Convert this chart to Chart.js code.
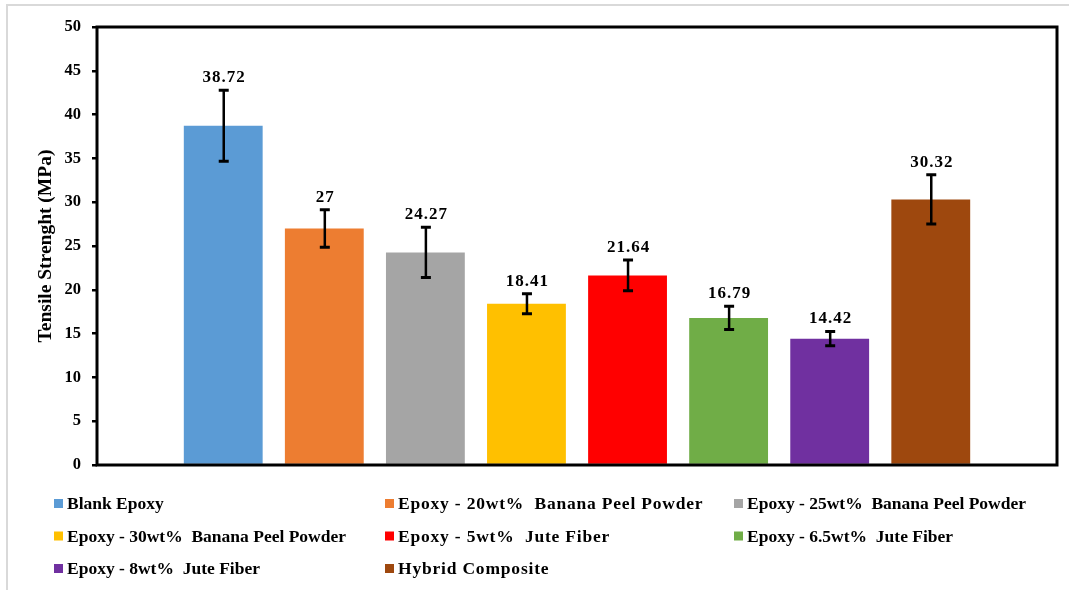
<!DOCTYPE html>
<html>
<head>
<meta charset="utf-8">
<script src="https://cdn.jsdelivr.net/npm/chart.js@4.4.1/dist/chart.umd.min.js"></script>
<style>
  html, body { margin: 0; padding: 0; background: #ffffff; }
  #wrap { width: 1069px; height: 590px; position: relative; }
</style>
</head>
<body>
<div id="wrap"><canvas id="chart" width="1069" height="590"></canvas></div>
<script>
// Tensile strength of epoxy samples (MPa), one bar per formulation
const categories = [''];
const seriesNames = [
  'Blank Epoxy',
  'Epoxy - 20wt%  Banana Peel Powder',
  'Epoxy - 25wt%  Banana Peel Powder',
  'Epoxy - 30wt%  Banana Peel Powder',
  'Epoxy - 5wt%  Jute Fiber',
  'Epoxy - 6.5wt%  Jute Fiber',
  'Epoxy - 8wt%  Jute Fiber',
  'Hybrid Composite'
];
const strengthValues = [38.72, 27, 24.27, 18.41, 21.64, 16.79, 14.42, 30.32];
const errorValues = [4.05, 2.13, 2.87, 1.14, 1.75, 1.33, 0.82, 2.8];
const seriesColors = ['#5B9BD5', '#ED7D31', '#A5A5A5', '#FFC000', '#FF0000', '#70AD47', '#7030A0', '#9E480E'];
const yTickValues = [0, 5, 10, 15, 20, 25, 30, 35, 40, 45, 50];

const SERIF = '"Liberation Serif", "Times New Roman", serif';
const INK = '#000000';

const datasets = seriesNames.map((name, i) => ({
  label: name,
  data: [strengthValues[i]],
  backgroundColor: seriesColors[i],
  borderWidth: 0,
  categoryPercentage: 0.8423,
  barPercentage: 0.78
}));

// frame around the whole figure and the plot box
const framePlugin = {
  id: 'frame',
  beforeDraw(chart) {
    const ctx = chart.ctx;
    ctx.save();
    ctx.fillStyle = '#ffffff';
    ctx.fillRect(0, 0, chart.width, chart.height);
    ctx.strokeStyle = '#d9d9d9';
    ctx.lineWidth = 2;
    ctx.strokeRect(7, 5, chart.width + 10, chart.height + 10);
    ctx.restore();
  },
  afterDatasetsDraw(chart) {
    const { ctx, chartArea: a } = chart;
    ctx.save();
    ctx.strokeStyle = INK;
    ctx.lineWidth = 3;
    ctx.strokeRect(a.left, a.top, a.right - a.left, a.bottom - a.top);
    ctx.restore();
  }
};

// error bars and value labels on top of each bar
const errorBarPlugin = {
  id: 'errorBars',
  afterDatasetsDraw(chart) {
    const ctx = chart.ctx;
    const y = chart.scales.y;
    ctx.save();
    chart.data.datasets.forEach((ds, i) => {
      const bar = chart.getDatasetMeta(i).data[0];
      const v = strengthValues[i];
      const e = errorValues[i];
      const x = bar.x + 0.5;
      const yTop = y.getPixelForValue(v + e);
      const yBot = y.getPixelForValue(v - e);
      ctx.strokeStyle = INK;
      ctx.lineWidth = 2.5;
      ctx.beginPath();
      ctx.moveTo(x, yTop);
      ctx.lineTo(x, yBot);
      ctx.stroke();
      ctx.lineWidth = 3;
      ctx.beginPath();
      ctx.moveTo(x - 5, yTop);
      ctx.lineTo(x + 5, yTop);
      ctx.moveTo(x - 5, yBot);
      ctx.lineTo(x + 5, yBot);
      ctx.stroke();

      ctx.fillStyle = INK;
      ctx.font = 'bold 17px ' + SERIF;
      ctx.letterSpacing = '1px';
      ctx.textAlign = 'center';
      ctx.textBaseline = 'middle';
      ctx.fillText(String(v), x + 0.5, yTop - 12.5);
    });
    ctx.restore();
  }
};

// three-column legend under the plot
const gridLegendPlugin = {
  id: 'gridLegend',
  afterDraw(chart) {
    const ctx = chart.ctx;
    const colX = [54, 385, 734];
    const colSpacing = ['0px', '0.8px', '0px'];
    const rowY = [503.5, 536, 568.5];
    ctx.save();
    ctx.font = 'bold 17.5px ' + SERIF;
    ctx.textAlign = 'left';
    ctx.textBaseline = 'middle';
    chart.data.datasets.forEach((ds, i) => {
      const c = i % 3, r = Math.floor(i / 3);
      const x = colX[c], yy = rowY[r];
      ctx.fillStyle = ds.backgroundColor;
      ctx.fillRect(x, yy - 4.5, 9, 9);
      ctx.fillStyle = INK;
      ctx.letterSpacing = colSpacing[c];
      ctx.fillText(ds.label, x + 13, yy + 1);
    });
    ctx.restore();
  }
};

new Chart(document.getElementById('chart'), {
  type: 'bar',
  data: { labels: categories, datasets },
  options: {
    responsive: false,
    animation: false,
    layout: { padding: { left: 0, top: 27, right: 12, bottom: 125 } },
    plugins: {
      legend: { display: false },
      tooltip: { enabled: false }
    },
    scales: {
      x: { display: false },
      y: {
        min: 0,
        max: 50,
        afterBuildTicks(scale) { scale.ticks = yTickValues.map(v => ({ value: v })); },
        afterFit(scale) { scale.width = 97; },
        border: { display: false },
        grid: {
          drawOnChartArea: false,
          drawTicks: true,
          tickLength: 5,
          color: INK,
          lineWidth: 2.5
        },
        ticks: {
          padding: 11,
          color: INK,
          font: { family: SERIF, size: 16.5, weight: 'bold' }
        },
        title: {
          display: true,
          text: 'Tensile Strenght (MPa)',
          color: INK,
          font: { family: SERIF, size: 19.5, weight: 'bold' },
          padding: { top: 34, bottom: 0 }
        }
      }
    }
  },
  plugins: [framePlugin, errorBarPlugin, gridLegendPlugin]
});
</script>
</body>
</html>
